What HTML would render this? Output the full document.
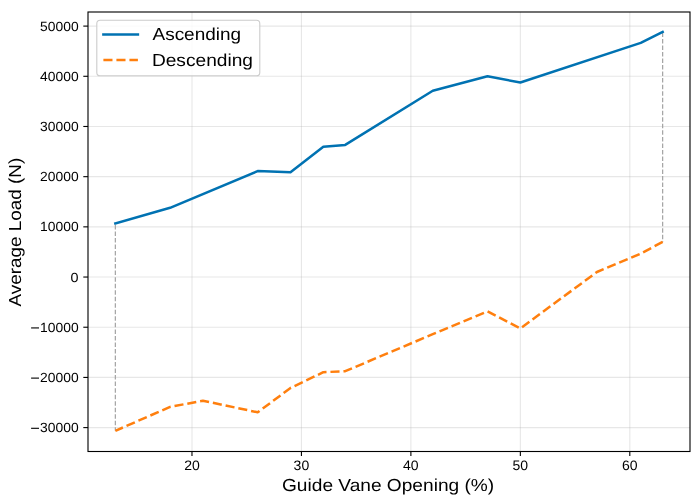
<!DOCTYPE html>
<html><head><meta charset="utf-8"><title>Average Load vs Guide Vane Opening</title>
<style>html,body{margin:0;padding:0;background:#fff;}body{width:700px;height:502px;overflow:hidden;font-family:"Liberation Sans", sans-serif;}svg{display:block;will-change:transform;}text{text-rendering:geometricPrecision;}</style>
</head><body>
<svg width="700" height="502" viewBox="0 0 700 502"><rect x="0" y="0" width="700" height="502" fill="#ffffff"/><g stroke="#b0b0b0" stroke-opacity="0.3" stroke-width="1.1"><line x1="191.98" y1="12.0" x2="191.98" y2="451.5"/><line x1="301.44" y1="12.0" x2="301.44" y2="451.5"/><line x1="410.89" y1="12.0" x2="410.89" y2="451.5"/><line x1="520.35" y1="12.0" x2="520.35" y2="451.5"/><line x1="629.80" y1="12.0" x2="629.80" y2="451.5"/><line x1="88.0" y1="427.60" x2="690.0" y2="427.60"/><line x1="88.0" y1="377.42" x2="690.0" y2="377.42"/><line x1="88.0" y1="327.23" x2="690.0" y2="327.23"/><line x1="88.0" y1="277.04" x2="690.0" y2="277.04"/><line x1="88.0" y1="226.85" x2="690.0" y2="226.85"/><line x1="88.0" y1="176.67" x2="690.0" y2="176.67"/><line x1="88.0" y1="126.48" x2="690.0" y2="126.48"/><line x1="88.0" y1="76.29" x2="690.0" y2="76.29"/><line x1="88.0" y1="26.10" x2="690.0" y2="26.10"/></g><g stroke="#a6a6a6" stroke-width="1.25" stroke-dasharray="4.5 2.03"><line x1="115.36" y1="223.4" x2="115.36" y2="430.8" stroke-dashoffset="5.03"/><line x1="662.64" y1="31.9" x2="662.64" y2="241.9" stroke-dashoffset="6.03"/></g><polyline points="115.36,223.40 170.09,207.80 257.65,171.10 290.49,172.30 323.33,146.80 345.22,144.90 432.78,90.70 487.51,76.30 520.35,82.50 640.75,42.90 662.64,31.90" fill="none" stroke="#0072b2" stroke-width="2.5" stroke-linecap="square" stroke-linejoin="round"/><polyline points="662.64,241.90 640.75,253.60 596.96,272.00 520.35,328.40 487.51,311.30 432.78,334.20 345.22,371.20 323.33,372.20 290.49,388.00 257.65,412.30 202.93,400.70 170.09,406.90 115.36,430.80" fill="none" stroke="#ff7f0e" stroke-width="2.5" stroke-dasharray="9.09 3.93" stroke-linecap="butt" stroke-linejoin="round"/><rect x="88.0" y="12.0" width="602.0" height="439.5" fill="none" stroke="#000" stroke-width="1.11" stroke-linejoin="miter"/><g stroke="#000" stroke-width="1.11"><line x1="191.98" y1="451.5" x2="191.98" y2="455.90"/><line x1="301.44" y1="451.5" x2="301.44" y2="455.90"/><line x1="410.89" y1="451.5" x2="410.89" y2="455.90"/><line x1="520.35" y1="451.5" x2="520.35" y2="455.90"/><line x1="629.80" y1="451.5" x2="629.80" y2="455.90"/><line x1="83.30" y1="427.60" x2="88.0" y2="427.60"/><line x1="83.30" y1="377.42" x2="88.0" y2="377.42"/><line x1="83.30" y1="327.23" x2="88.0" y2="327.23"/><line x1="83.30" y1="277.04" x2="88.0" y2="277.04"/><line x1="83.30" y1="226.85" x2="88.0" y2="226.85"/><line x1="83.30" y1="176.67" x2="88.0" y2="176.67"/><line x1="83.30" y1="126.48" x2="88.0" y2="126.48"/><line x1="83.30" y1="76.29" x2="88.0" y2="76.29"/><line x1="83.30" y1="26.10" x2="88.0" y2="26.10"/></g><g font-family='"Liberation Sans", sans-serif' font-size="13.3" fill="#000"><text x="191.98" y="469.7" font-size="13.7" text-anchor="middle" textLength="15.6" lengthAdjust="spacingAndGlyphs">20</text><text x="301.44" y="469.7" font-size="13.7" text-anchor="middle" textLength="15.6" lengthAdjust="spacingAndGlyphs">30</text><text x="410.89" y="469.7" font-size="13.7" text-anchor="middle" textLength="15.6" lengthAdjust="spacingAndGlyphs">40</text><text x="520.35" y="469.7" font-size="13.7" text-anchor="middle" textLength="15.6" lengthAdjust="spacingAndGlyphs">50</text><text x="629.80" y="469.7" font-size="13.7" text-anchor="middle" textLength="15.6" lengthAdjust="spacingAndGlyphs">60</text><text x="78.6" y="432.20" text-anchor="end" textLength="38.5" lengthAdjust="spacingAndGlyphs">30000</text><text x="78.6" y="382.02" text-anchor="end" textLength="38.5" lengthAdjust="spacingAndGlyphs">20000</text><text x="78.6" y="331.83" text-anchor="end" textLength="38.5" lengthAdjust="spacingAndGlyphs">10000</text><text x="78.6" y="281.64" text-anchor="end" textLength="8.0" lengthAdjust="spacingAndGlyphs">0</text><text x="78.6" y="231.45" text-anchor="end" textLength="38.5" lengthAdjust="spacingAndGlyphs">10000</text><text x="78.6" y="181.27" text-anchor="end" textLength="38.5" lengthAdjust="spacingAndGlyphs">20000</text><text x="78.6" y="131.08" text-anchor="end" textLength="38.5" lengthAdjust="spacingAndGlyphs">30000</text><text x="78.6" y="80.89" text-anchor="end" textLength="38.5" lengthAdjust="spacingAndGlyphs">40000</text><text x="78.6" y="30.70" text-anchor="end" textLength="38.5" lengthAdjust="spacingAndGlyphs">50000</text></g><g fill="#000"><rect x="31.1" y="427.75" width="7.90" height="1.1"/><rect x="31.1" y="377.56" width="7.90" height="1.1"/><rect x="31.1" y="327.38" width="7.90" height="1.1"/></g><text x="388.1" y="490.9" text-anchor="middle" font-family='"Liberation Sans", sans-serif' font-size="17.4" fill="#000" textLength="212.2" lengthAdjust="spacingAndGlyphs">Guide Vane Opening (%)</text><text transform="translate(21.4,232.1) rotate(-90)" x="0" y="0" text-anchor="middle" font-family='"Liberation Sans", sans-serif' font-size="17.4" fill="#000" textLength="148.8" lengthAdjust="spacingAndGlyphs">Average Load (N)</text><rect x="96.8" y="20.3" width="163" height="55.5" rx="3.33" ry="3.33" fill="#ffffff" fill-opacity="0.8" stroke="#cccccc" stroke-width="1.11"/><line x1="103.4" y1="34.4" x2="137.9" y2="34.4" stroke="#0072b2" stroke-width="2.5" stroke-linecap="square"/><line x1="103.4" y1="59.9" x2="137.9" y2="59.9" stroke="#ff7f0e" stroke-width="2.5" stroke-dasharray="9.09 3.93" stroke-linecap="butt"/><text x="152.5" y="40.4" font-family='"Liberation Sans", sans-serif' font-size="17.4" fill="#000" textLength="88.6" lengthAdjust="spacingAndGlyphs">Ascending</text><text x="151.90" y="65.5" font-family='"Liberation Sans", sans-serif' font-size="17.4" fill="#000" textLength="101.1" lengthAdjust="spacingAndGlyphs">Descending</text></svg>
</body></html>
